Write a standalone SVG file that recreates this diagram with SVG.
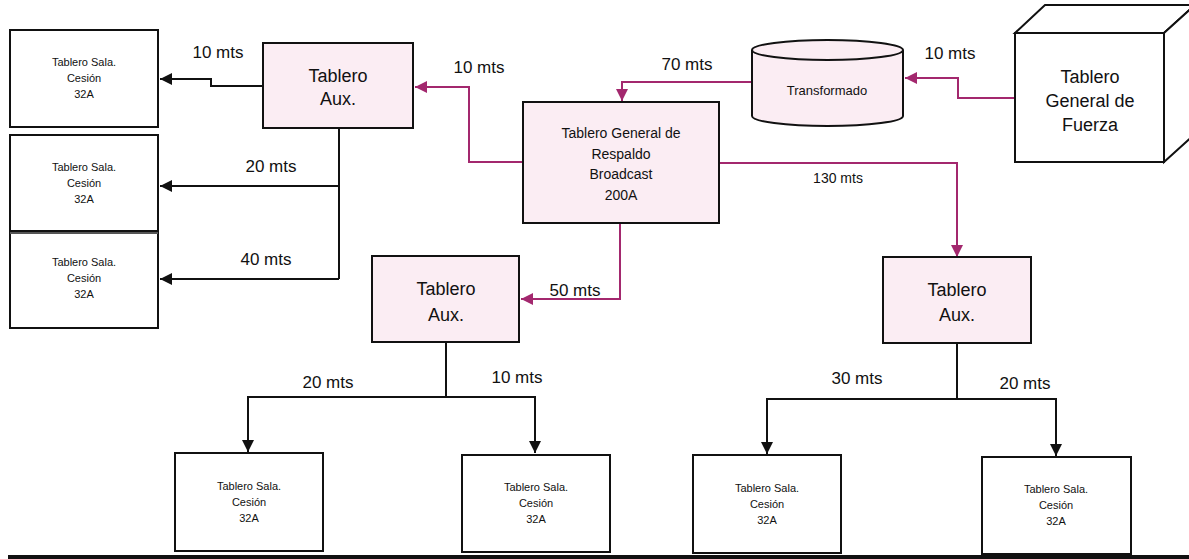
<svg xmlns="http://www.w3.org/2000/svg" width="1189" height="559" viewBox="0 0 1189 559">
<defs>
<style>
.box{fill:#ffffff;stroke:#111;stroke-width:2}
.pink{fill:#fbedf3;stroke:#111;stroke-width:2}
.blk{fill:none;stroke:#111;stroke-width:2}
.mag{fill:none;stroke:#a3286e;stroke-width:2}
text{font-family:"Liberation Sans",Arial,sans-serif;fill:#111;text-anchor:middle}
.s{font-size:11px}
.m{font-size:14px}
.l{font-size:18px}
.lbl{font-size:17px}
</style>
<marker id="ab" viewBox="0 0 10 10" refX="10" refY="5" markerWidth="12" markerHeight="12" markerUnits="userSpaceOnUse" orient="auto"><path d="M0,0 L10,5 L0,10 z" fill="#111"/></marker>
<marker id="am" viewBox="0 0 10 10" refX="10" refY="5" markerWidth="12" markerHeight="12" markerUnits="userSpaceOnUse" orient="auto"><path d="M0,0 L10,5 L0,10 z" fill="#a3286e"/></marker>
</defs>
<rect width="1189" height="559" fill="#ffffff"/>

<g id="connectors">
<path class="mag" d="M1015,98 H958 V78 H905" marker-end="url(#am)"/>
<path class="mag" d="M752,82 H622 V101" marker-end="url(#am)"/>
<path class="mag" d="M523,162 H469 V87 H415" marker-end="url(#am)"/>
<path class="mag" d="M719,163 H957 V257" marker-end="url(#am)"/>
<path class="mag" d="M620,223 V299 H521" marker-end="url(#am)"/>
<path class="blk" d="M263,86 H211 V79 H160" marker-end="url(#ab)"/>
<path class="blk" d="M339,128 V279"/>
<path class="blk" d="M339,186 H160" marker-end="url(#ab)"/>
<path class="blk" d="M339,279 H160" marker-end="url(#ab)"/>
<path class="blk" d="M446,342 V397"/>
<path class="blk" d="M446,397 H248 V452" marker-end="url(#ab)"/>
<path class="blk" d="M446,397 H535 V453" marker-end="url(#ab)"/>
<path class="blk" d="M957,343 V399"/>
<path class="blk" d="M957,399 H767 V454" marker-end="url(#ab)"/>
<path class="blk" d="M957,399 H1056 V456" marker-end="url(#ab)"/>
<text class="lbl" x="218" y="58">10 mts</text>
<text class="lbl" x="271" y="172">20 mts</text>
<text class="lbl" x="266" y="265">40 mts</text>
<text class="lbl" x="479" y="73">10 mts</text>
<text class="lbl" x="687" y="70">70 mts</text>
<text class="lbl" x="950" y="59">10 mts</text>
<text class="m" x="838" y="183">130 mts</text>
<text class="lbl" x="575" y="296">50 mts</text>
<text class="lbl" x="328" y="388">20 mts</text>
<text class="lbl" x="517" y="383">10 mts</text>
<text class="lbl" x="857" y="384">30 mts</text>
<text class="lbl" x="1025" y="389">20 mts</text>
</g>

<g id="sala1"><rect class="box" x="10" y="30" width="148" height="97"/>
<text class="s" x="84" y="66">Tablero Sala.</text><text class="s" x="84" y="82">Cesión</text><text class="s" x="84" y="98">32A</text></g>
<g id="sala2"><rect class="box" x="10" y="135" width="148" height="96"/>
<text class="s" x="84" y="171">Tablero Sala.</text><text class="s" x="84" y="187">Cesión</text><text class="s" x="84" y="203">32A</text></g>
<g id="sala3"><rect class="box" x="10" y="231" width="148" height="97"/>
<line x1="10" y1="233" x2="158" y2="233" stroke="#555" stroke-width="2"/>
<text class="s" x="84" y="266">Tablero Sala.</text><text class="s" x="84" y="282">Cesión</text><text class="s" x="84" y="298">32A</text></g>

<g id="aux1"><rect class="pink" x="263" y="43" width="150" height="85"/>
<text class="l" x="338" y="82">Tablero</text><text class="l" x="338" y="105">Aux.</text></g>

<g id="general"><rect class="pink" x="523" y="102" width="196" height="121"/>
<text class="m" x="621" y="138">Tablero General de</text><text class="m" x="621" y="159">Respaldo</text><text class="m" x="621" y="179">Broadcast</text><text class="m" x="621" y="200">200A</text></g>

<g id="transformador">
<path d="M752,50 V116 A75.5,10 0 0 0 903,116 V50" fill="#fbedf3" stroke="#111" stroke-width="2"/>
<ellipse cx="827.5" cy="50" rx="75.5" ry="10" fill="#fbedf3" stroke="#111" stroke-width="2"/>
<text class="m" x="827" y="95" style="font-size:13px">Transformado</text></g>

<g id="fuerza">
<path d="M1015,33 L1045,5 H1195 L1164,33 Z" fill="#ffffff" stroke="#111" stroke-width="2"/>
<path d="M1164,33 L1195,5 V134 L1164,162 Z" fill="#ffffff" stroke="#111" stroke-width="2"/>
<rect class="box" x="1015" y="33" width="149" height="129"/>
<text class="l" x="1090" y="83">Tablero</text><text class="l" x="1090" y="107">General de</text><text class="l" x="1090" y="131">Fuerza</text></g>

<g id="aux2"><rect class="pink" x="372" y="256" width="147" height="86"/>
<text class="l" x="446" y="295">Tablero</text><text class="l" x="446" y="321">Aux.</text></g>

<g id="aux3"><rect class="pink" x="883" y="257" width="148" height="86"/>
<text class="l" x="957" y="296">Tablero</text><text class="l" x="957" y="321">Aux.</text></g>

<g id="sala4"><rect class="box" x="175" y="453" width="148" height="98"/>
<text class="s" x="249" y="490">Tablero Sala.</text><text class="s" x="249" y="506">Cesión</text><text class="s" x="249" y="522">32A</text></g>
<g id="sala5"><rect class="box" x="462" y="455" width="148" height="97"/>
<text class="s" x="536" y="491">Tablero Sala.</text><text class="s" x="536" y="507">Cesión</text><text class="s" x="536" y="523">32A</text></g>
<g id="sala6"><rect class="box" x="693" y="455" width="148" height="98"/>
<text class="s" x="767" y="492">Tablero Sala.</text><text class="s" x="767" y="508">Cesión</text><text class="s" x="767" y="524">32A</text></g>
<g id="sala7"><rect class="box" x="982" y="457" width="149" height="97"/>
<text class="s" x="1056" y="493">Tablero Sala.</text><text class="s" x="1056" y="509">Cesión</text><text class="s" x="1056" y="525">32A</text></g>

<rect x="8" y="555" width="1181" height="4" fill="#111"/>
</svg>
